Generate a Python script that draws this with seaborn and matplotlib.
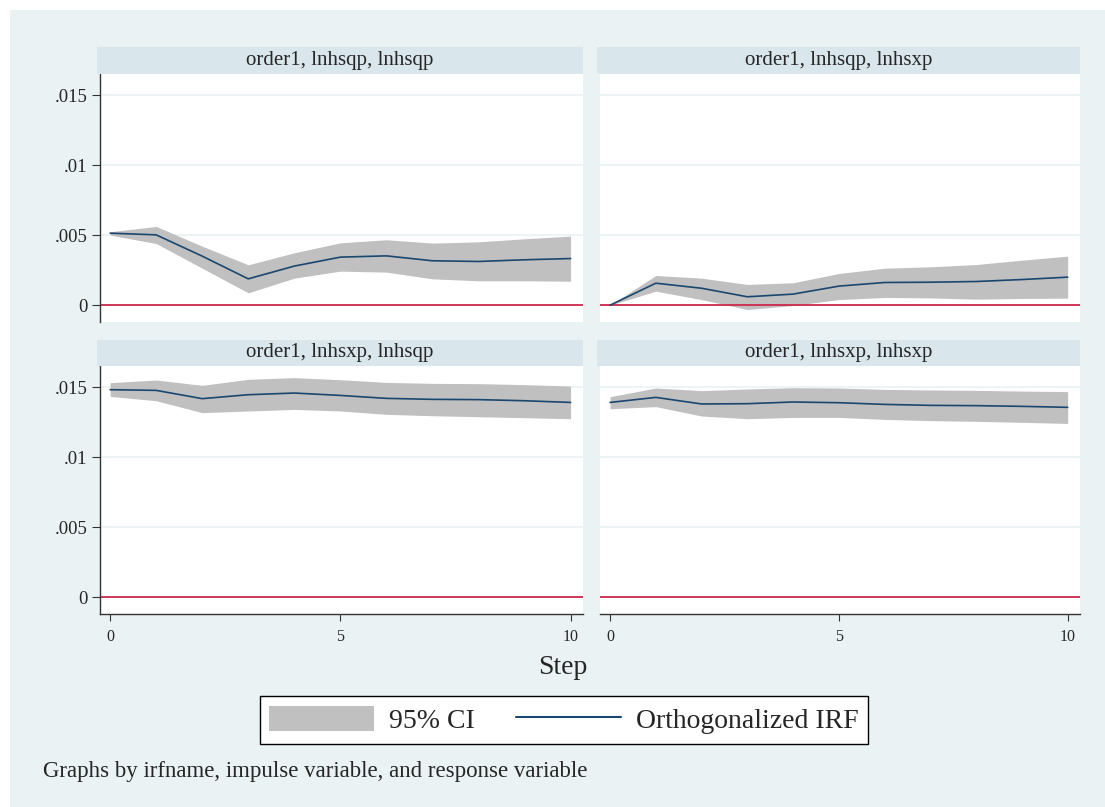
import numpy as np
import pandas as pd
import seaborn as sns
import matplotlib.pyplot as plt
from matplotlib.patches import Patch, Rectangle
from matplotlib.lines import Line2D

# IRF results
steps = list(range(11))
panel_titles = ["order1, lnhsqp, lnhsqp", "order1, lnhsqp, lnhsxp",
                "order1, lnhsxp, lnhsqp", "order1, lnhsxp, lnhsxp"]

irf_qq = [0.00514, 0.00502, 0.0035, 0.00188, 0.00279, 0.00343, 0.00352, 0.00317, 0.00312, 0.00324, 0.00333]
up_qq = [0.00524, 0.00562, 0.00421, 0.00288, 0.00374, 0.00445, 0.00467, 0.00443, 0.00452, 0.00474, 0.00493]
lo_qq = [0.00500, 0.00440, 0.00264, 0.00088, 0.00193, 0.00243, 0.00236, 0.00188, 0.00174, 0.00174, 0.00171]

irf_qx = [0.0, 0.00157, 0.00121, 0.0006, 0.00079, 0.00136, 0.00162, 0.00164, 0.00169, 0.00183, 0.0020]
up_qx = [0.0, 0.00212, 0.00193, 0.00148, 0.0016, 0.00226, 0.00264, 0.00274, 0.0029, 0.00321, 0.0035]
lo_qx = [0.0, 0.0010, 0.0004, -0.00031, -0.00002, 0.0004, 0.00055, 0.00052, 0.00043, 0.00048, 0.0005]

irf_xq = [0.01481, 0.01476, 0.01417, 0.01445, 0.01457, 0.0144, 0.01419, 0.01412, 0.0141, 0.01402, 0.0139]
up_xq = [0.01531, 0.0155, 0.01512, 0.01555, 0.01567, 0.01552, 0.01533, 0.01526, 0.01524, 0.01517, 0.01507]
lo_xq = [0.01433, 0.01402, 0.01317, 0.01329, 0.0134, 0.01329, 0.01305, 0.01295, 0.01288, 0.01281, 0.01274]

irf_xx = [0.0139, 0.01426, 0.01379, 0.01381, 0.01393, 0.01388, 0.01376, 0.01369, 0.01367, 0.01362, 0.01355]
up_xx = [0.01431, 0.01493, 0.01474, 0.01486, 0.01495, 0.01493, 0.01483, 0.01479, 0.01476, 0.01471, 0.01467]
lo_xx = [0.01345, 0.0136, 0.01293, 0.01274, 0.01283, 0.01283, 0.01269, 0.0126, 0.01255, 0.01248, 0.0124]

yticks = [0, 0.005, 0.01, 0.015]
ytick_labels = ["0", ".005", ".01", ".015"]
xticks = [0, 5, 10]

frames = []
for title, irf, up, lo in zip(panel_titles,
                              [irf_qq, irf_qx, irf_xq, irf_xx],
                              [up_qq, up_qx, up_xq, up_xx],
                              [lo_qq, lo_qx, lo_xq, lo_xx]):
    frames.append(pd.DataFrame({"panel": title, "step": steps,
                                "irf": irf, "upper": up, "lower": lo}))
df = pd.concat(frames, ignore_index=True)

sns.set_style("white")
plt.rcParams['font.family'] = ['Liberation Serif', 'DejaVu Serif']

BG = "#EAF2F3"
STRIP = "#D9E6EB"
CI_COL = "#C0C0C0"
LINE_COL = "#1A476F"
ZERO_COL = "#D0284C"

W, H = 1105, 807
fig = plt.figure(figsize=(W / 100, H / 100), dpi=100)
fig.patch.set_facecolor("white")
fig.add_artist(Rectangle((10 / W, 0), 1 - 10 / W, 1 - 10 / H, transform=fig.transFigure,
                         facecolor=BG, edgecolor="none", zorder=-10))

# pixel boxes: (left, top, width) ; height 248
boxes = [(100, 74, 483), (600, 74, 480), (100, 366, 483), (600, 366, 480)]
strip_h = [27, 27, 26, 26]

for i, (title, (lx, ty, w)) in enumerate(zip(panel_titles, boxes)):
    ax = fig.add_axes([lx / W, 1 - (ty + 248) / H, w / W, 248 / H])
    sub = df[df["panel"] == title]
    ax.set_facecolor("white")
    for yv in yticks:
        ax.axhline(yv, color=BG, lw=1.2, zorder=0)
    ax.fill_between(sub["step"], sub["lower"], sub["upper"], color=CI_COL, lw=0, zorder=1)
    ax.axhline(0, color=ZERO_COL, lw=1.3, zorder=2)
    sns.lineplot(data=sub, x="step", y="irf", ax=ax, color=LINE_COL, lw=1.2, zorder=3)
    ax.set_xlim(-0.22, 10.27)
    ax.set_ylim(-0.0012, 0.0165)
    ax.set_xlabel("")
    ax.set_ylabel("")
    for s in ax.spines.values():
        s.set_visible(False)
    left_col = i % 2 == 0
    bottom_row = i >= 2
    ax.set_yticks(yticks)
    if left_col:
        ax.spines["left"].set_visible(True)
        ax.spines["left"].set_color("#333333")
        ax.spines["left"].set_linewidth(1.0)
        ax.set_yticklabels(ytick_labels, fontsize=13.5)
        ax.tick_params(axis="y", length=6, width=0.8, color="#333333", pad=3, left=True)
    else:
        ax.set_yticklabels([])
        ax.tick_params(axis="y", length=0)
    ax.set_xticks(xticks)
    if bottom_row:
        ax.spines["bottom"].set_visible(True)
        ax.spines["bottom"].set_color("#333333")
        ax.spines["bottom"].set_linewidth(1.0)
        ax.set_xticklabels([str(v) for v in xticks], fontsize=11.5)
        ax.tick_params(axis="x", length=5, width=0.8, color="#333333", pad=6, bottom=True)
    else:
        ax.set_xticklabels([])
        ax.tick_params(axis="x", length=0)

    sh = strip_h[i]
    sax = fig.add_axes([(lx - 3) / W, 1 - ty / H, (w + 3) / W, sh / H])
    sax.set_facecolor(STRIP)
    sax.set_xticks([])
    sax.set_yticks([])
    for s in sax.spines.values():
        s.set_visible(False)
    sax.text(0.5, 0.5, title, ha="center", va="center", fontsize=15, transform=sax.transAxes)

fig.text(563 / W, 1 - 668 / H, "Step", ha="center", va="center", fontsize=20)

handles = [Patch(facecolor=CI_COL, edgecolor="none"),
           Line2D([0], [0], color=LINE_COL, lw=1.5)]
leg = fig.legend(handles, ["95% CI", "Orthogonalized IRF"], loc="center",
                 bbox_to_anchor=(564 / W, 1 - 720 / H), ncol=2, fontsize=20,
                 frameon=True, fancybox=False, framealpha=1, handlelength=3.75,
                 handleheight=1.0, columnspacing=1.5, handletextpad=0.55, borderpad=0.35,
                 borderaxespad=0)
leg.get_frame().set_edgecolor("black")
leg.get_frame().set_linewidth(1.0)
leg.get_frame().set_facecolor("white")

fig.text(43 / W, 1 - 772 / H, "Graphs by irfname, impulse variable, and response variable",
         ha="left", va="center", fontsize=16.5)

fig.savefig("out.png", dpi=100, facecolor=fig.get_facecolor())
